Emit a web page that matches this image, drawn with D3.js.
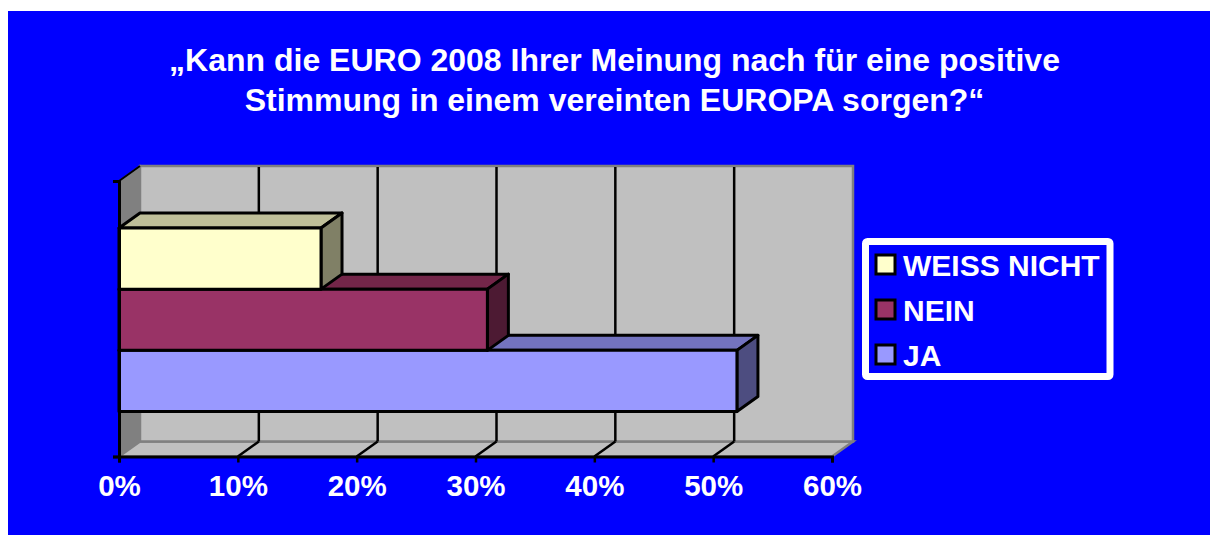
<!DOCTYPE html>
<html>
<head>
<meta charset="utf-8">
<script src="https://cdn.jsdelivr.net/npm/d3@7"></script>
<style>
  html, body { margin: 0; padding: 0; background: #fff; overflow: hidden; }
  svg { display: block; }
  text { font-family: "Liberation Sans", Arial, sans-serif; font-weight: 700; fill: #fff; }
</style>
</head>
<body>
<svg id="chart" width="1210" height="535"></svg>
<script>
const titleLines = ["„Kann die EURO 2008 Ihrer Meinung nach für eine positive", "Stimmung in einem vereinten EUROPA sorgen?“"];
const categories = ["JA", "NEIN", "WEISS NICHT"];
const values = [52, 31, 17];
const barColors = ["#9999ff", "#993366", "#ffffcc"];
const topColors = ["#7373bf", "#732649", "#bfbf99"];
const sideColors = ["#4d4d80", "#4d1a33", "#808066"];
const xTicks = [0, 10, 20, 30, 40, 50, 60];
const legendOrder = ["WEISS NICHT", "NEIN", "JA"];

const svg = d3.select("#chart");

svg.append("rect")
  .attr("x", 8).attr("y", 11)
  .attr("width", 1202).attr("height", 524)
  .attr("fill", "#0000ff");

svg.selectAll(".title")
  .data(titleLines)
  .enter().append("text")
  .attr("class", "title")
  .attr("x", 614.5)
  .attr("y", (d, i) => 71 + i * 40)
  .attr("text-anchor", "middle")
  .style("font-size", "32px")
  .text(d => d);

// front plane of the box, the back wall sits one depth step up and right
const plotLeft = 119, plotRight = 832, plotTop = 181, plotBottom = 456.5;
const depthX = 21, depthY = -15;

const x = d3.scaleLinear().domain([0, 60]).range([plotLeft, plotRight]);
const y = d3.scaleBand().domain(categories).range([plotBottom + 1, plotTop + 1]).paddingInner(0).paddingOuter(0.75);

const poly = pts => pts.map(p => p.join(",")).join(" ");

// walls
svg.append("polygon")
  .attr("points", poly([[plotLeft, plotTop], [plotLeft + depthX, plotTop + depthY], [plotLeft + depthX, plotBottom + depthY], [plotLeft, plotBottom]]))
  .attr("fill", "#808080").attr("stroke", "#808080").attr("stroke-width", 1.5);
svg.append("polygon")
  .attr("points", poly([[plotLeft, plotBottom], [plotLeft + depthX, plotBottom + depthY], [plotRight + depthX, plotBottom + depthY], [plotRight, plotBottom]]))
  .attr("fill", "#c0c0c0").attr("stroke", "#808080").attr("stroke-width", 2.5);
svg.append("rect")
  .attr("x", plotLeft + depthX).attr("y", plotTop + depthY)
  .attr("width", plotRight - plotLeft).attr("height", plotBottom - plotTop)
  .attr("fill", "#c0c0c0").attr("stroke", "#808080").attr("stroke-width", 2.5);
svg.append("line")
  .attr("x1", plotLeft).attr("y1", plotTop)
  .attr("x2", plotLeft + depthX).attr("y2", plotTop + depthY)
  .attr("stroke", "#000").attr("stroke-width", 2);

// grid lines, back wall and floor
const inner = xTicks.slice(1, -1);
svg.selectAll(".grid-back")
  .data(inner)
  .enter().append("line")
  .attr("x1", d => x(d) + depthX).attr("x2", d => x(d) + depthX)
  .attr("y1", plotTop + depthY + 1).attr("y2", plotBottom + depthY)
  .attr("stroke", "#000").attr("stroke-width", 2.5);
svg.selectAll(".grid-floor")
  .data(inner)
  .enter().append("line")
  .attr("x1", d => x(d)).attr("x2", d => x(d) + depthX)
  .attr("y1", plotBottom).attr("y2", plotBottom + depthY)
  .attr("stroke", "#000").attr("stroke-width", 2.5);

// bars
const bars = svg.selectAll(".bar")
  .data(categories.map((c, i) => ({ c, v: values[i], i })))
  .enter().append("g")
  .attr("class", "bar")
  .attr("stroke", "#000").attr("stroke-width", 3).attr("stroke-linejoin", "round");

bars.append("polygon")
  .attr("points", d => {
    const y0 = y(d.c), xv = x(d.v);
    return poly([[plotLeft, y0], [plotLeft + depthX, y0 + depthY], [xv + depthX, y0 + depthY], [xv, y0]]);
  })
  .attr("fill", d => topColors[d.i]);
bars.append("polygon")
  .attr("points", d => {
    const y0 = y(d.c), y1 = y0 + y.bandwidth(), xv = x(d.v);
    return poly([[xv, y0], [xv + depthX, y0 + depthY], [xv + depthX, y1 + depthY], [xv, y1]]);
  })
  .attr("fill", d => sideColors[d.i]);
bars.append("rect")
  .attr("x", plotLeft)
  .attr("y", d => y(d.c))
  .attr("width", d => x(d.v) - plotLeft)
  .attr("height", y.bandwidth())
  .attr("fill", d => barColors[d.i]);

// axes
const xAxis = d3.axisBottom(x)
  .tickValues(xTicks)
  .tickFormat(d => d + "%")
  .tickSize(6)
  .tickPadding(13);

const gx = svg.append("g")
  .attr("transform", `translate(0,${plotBottom})`)
  .call(xAxis);
gx.select(".domain").attr("stroke", "#000").attr("stroke-width", 3);
gx.selectAll(".tick line").attr("stroke", "#000").attr("stroke-width", 2.5);
gx.selectAll(".tick text").style("font-size", "29.5px").attr("fill", "#fff");

const yAxisLine = d3.scaleLinear().domain([0, 1]).range([plotBottom, plotTop]);
const gy = svg.append("g")
  .attr("transform", `translate(${plotLeft},0)`)
  .call(d3.axisLeft(yAxisLine).tickValues([0, 1]).tickFormat("").tickSize(6));
gy.select(".domain").attr("stroke", "#000").attr("stroke-width", 3);
gy.selectAll(".tick line").attr("stroke", "#000").attr("stroke-width", 2.5);

// legend
svg.append("rect")
  .attr("x", 865.5).attr("y", 241.5)
  .attr("width", 244.5).attr("height", 135)
  .attr("rx", 2)
  .attr("fill", "#0000ff").attr("stroke", "#fff").attr("stroke-width", 7);

const legend = svg.selectAll(".legend")
  .data(legendOrder)
  .enter().append("g")
  .attr("class", "legend")
  .attr("transform", (d, i) => `translate(876,${255 + i * 45})`);
legend.append("rect")
  .attr("width", 19).attr("height", 19)
  .attr("fill", d => barColors[categories.indexOf(d)])
  .attr("stroke", "#000").attr("stroke-width", 3);
legend.append("text")
  .attr("x", 27).attr("y", 20.5)
  .style("font-size", "30px")
  .text(d => d);
</script>
</body>
</html>
